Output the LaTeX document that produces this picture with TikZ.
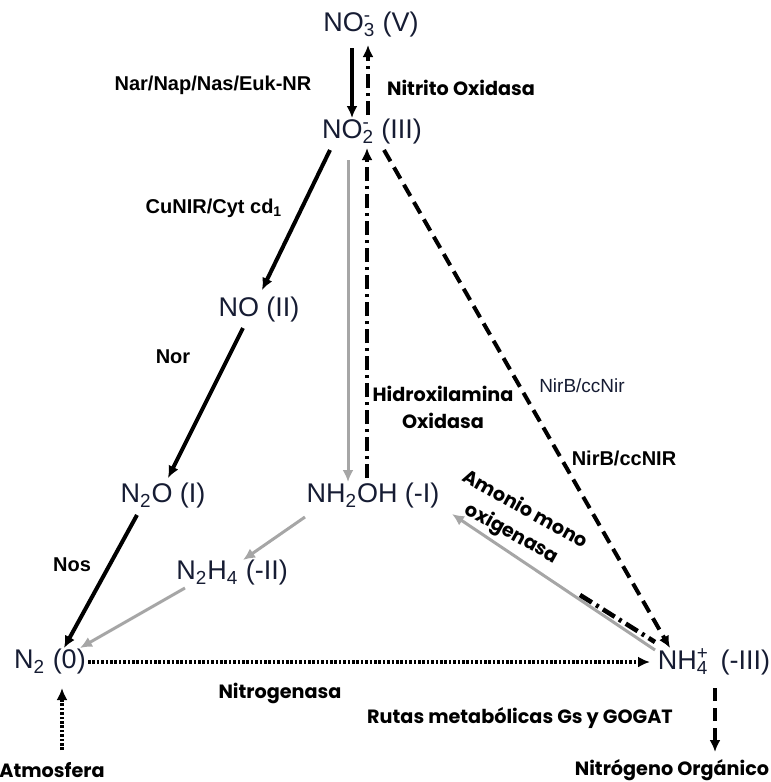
\documentclass[tikz,border=0pt]{standalone}
\usepackage{fontspec}
\setmainfont{Liberation Sans}
\newfontfamily\popfont{Poppins}
\usepackage{tikz}
\usetikzlibrary{positioning, calc, arrows.meta}

\definecolor{especie}{HTML}{161C33}
\newcommand{\ionsub}[2]{\rlap{\textsubscript{#1}}\textsuperscript{#2}\hspace{0.15em}}

\begin{document}
\begin{tikzpicture}[x=0.5pt, y=-0.5pt, >={Latex[length=6pt,width=5.5pt]},
    esp/.style={inner sep=0pt, text=especie, font=\fontsize{13.5}{15}\selectfont},
    enz/.style={inner sep=0pt, font=\fontsize{10}{12}\selectfont\bfseries},
    enzp/.style={inner sep=0pt, align=center, font=\fontsize{9.6}{13.5}\selectfont\popfont\bfseries},
    reac/.style={->, line width=2pt, black},
    gris/.style={->, line width=1.5pt, gray!70},
    oxid/.style={line width=2.3pt, dash pattern=on 7pt off 2.5pt on 1.5pt off 2.5pt},
    nirb/.style={->, line width=2pt, dash pattern=on 6.5pt off 3.5pt},
    fija/.style={->, line width=2.2pt, dash pattern=on 1.3pt off 0.9pt}]
    \useasboundingbox (0,0) rectangle (771,782);

    % especies
    \node[esp] (no3)   at (371,25)  {NO\ionsub{3}{-} (V)};
    \node[esp] (no2)   at (372,132) {NO\ionsub{2}{-} (III)};
    \node[esp] (no)    at (259,310) {NO (II)};
    \node[esp] (n2o)   at (163,496) {N\textsubscript{2}O (I)};
    \node[esp] (nh2oh) at (373,496) {NH\textsubscript{2}OH (-I)};
    \node[esp] (n2h4)  at (232,573) {N\textsubscript{2}H\textsubscript{4} (-II)};
    \node[esp] (n2)    at (50,662)  {N\textsubscript{2} (0)};
    \node[esp] (nh4)   at (714,662) {NH\ionsub{4}{+} (-III)};
    \node[enzp] (atm)  at (52,770)  {Atmosfera};
    \node[enzp] (norg) at (672,770) {Nitrógeno Orgánico};

    % enzimas
    \node[enz]  (nar)  at (213,85)  {Nar/Nap/Nas/Euk-NR};
    \node[enzp] (nox)  at (461,88)  {Nitrito Oxidasa};
    \node[enz]  (cun)  at (214,208) {CuNIR/Cyt cd\textsubscript{1}};
    \node[enz]  (nor)  at (173,357) {Nor};
    \node[enz]  (nos)  at (72,565)  {Nos};
    \node[enzp] (hao)  at (443,407) {Hidroxilamina\\Oxidasa};
    \node[inner sep=0pt, text=especie, font=\fontsize{9.5}{11}\selectfont] (nirb1) at (582,386) {NirB/ccNir};
    \node[enz]  (nirb2) at (624,458) {NirB/ccNIR};
    \node[enzp, rotate=-29, align=center] (amo) at (518,522) {Amonio mono\\oxigenasa};
    \node[enzp] (nit)  at (280,693) {Nitrogenasa};
    \node[enzp] (rut)  at (520,718) {Rutas metabólicas Gs y GOGAT};

    % desnitrificacion
    \draw[reac] ($(no3)+(-19,23)$) -- ($(no2)+(-20,-14)$);
    \draw[->, oxid] ($(no2)+(-4,-17)$) -- ($(no3)+(-3,20)$);
    \draw[reac] ($(no2)+(-42,18)$) -- ($(no)+(3,-20)$);
    \draw[reac] ($(no)+(-16,18)$) -- ($(n2o)+(5,-18)$);
    \draw[reac] ($(n2o)+(-26,19)$) -- ($(n2)+(14,-14)$);

    % anammox y nitrificacion
    \draw[gris] ($(no2)+(-24,28)$) -- ($(nh2oh)+(-25,-14)$);
    \draw[->, oxid] ($(nh2oh)+(-6,-18)$) -- ($(no2)+(-5,16)$);
    \draw[nirb] ($(no2)+(12,18)$) -- ($(nh4)+(-44,-14)$);
    \draw[gris] ($(nh4)+(-59,-12)$) -- ($(nh2oh)+(79,18)$);
    \coordinate (amoc) at (580,595);
    \draw[oxid] (amoc) -- ($(nh4)+(-59,-20)$);
    \draw[gris] ($(nh2oh)+(-68,21)$) -- ($(n2h4)+(11,-13)$);
    \draw[gris] ($(n2h4)+(-47,15)$) -- ($(n2)+(30,-14)$);

    % fijacion y asimilacion
    \draw[fija] ($(n2)+(38,0)$) -- ($(nh4)+(-64,0)$);
    \draw[fija] ($(atm)+(10,-20)$) -- ($(n2)+(12,26)$);
    \draw[nirb] ($(nh4)+(1,26)$) -- ($(norg)+(43,-18)$);
\end{tikzpicture}
\end{document}
